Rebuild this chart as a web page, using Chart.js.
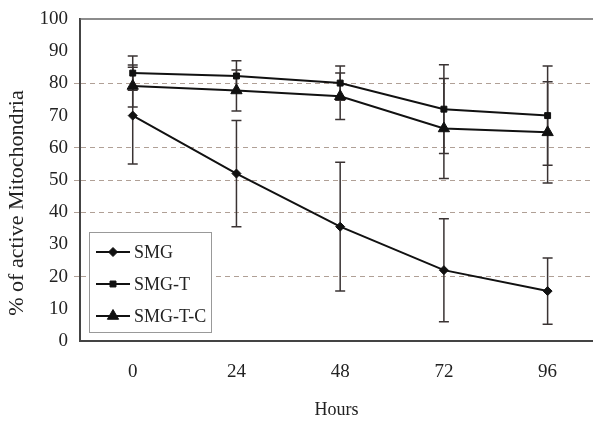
<!DOCTYPE html>
<html>
<head>
<meta charset="utf-8">
<script src="https://cdn.jsdelivr.net/npm/chart.js@4"></script>
<style>
html,body{margin:0;padding:0;background:#fff;overflow:hidden;}
canvas{display:block;}
</style>
</head>
<body>
<canvas id="c" width="593" height="421"></canvas>
<script>
const hours = [0, 24, 48, 72, 96];
const seriesNames = ['SMG', 'SMG-T', 'SMG-T-C'];
const smg = [70, 52, 35.5, 22, 15.5];
const smgErr = [15, 16.5, 20, 16, 10.3];
const smgT = [83.2, 82.3, 80.1, 72, 70];
const smgTErr = [5.3, 4.7, 5.3, 13.8, 15.4];
const smgTC = [79.2, 77.8, 76, 66, 64.8];
const smgTCErr = [6.5, 6.4, 7.2, 15.5, 15.7];
const yTicks = [0, 10, 20, 30, 40, 50, 60, 70, 80, 90, 100];
const gridValues = [20, 40, 50, 60, 80];
const xTitle = 'Hours';
const yTitle = '% of active Mitochondria';

const FONT = '"Liberation Serif", "Times New Roman", serif';
const TXT = '#222';

function pts(vals, errs) {
  return hours.map((h, i) => ({ x: h, y: vals[i], err: errs[i] }));
}

const styles = [
  { pointStyle: 'rectRot', radius: 4.5 },
  { pointStyle: 'rect', radius: 4.2 },
  { pointStyle: 'triangle', radius: 6.5 }
];

const datasets = [smg, smgT, smgTC].map((vals, k) => ({
  label: seriesNames[k],
  data: pts(vals, [smgErr, smgTErr, smgTCErr][k]),
  borderColor: '#111',
  backgroundColor: '#111',
  borderWidth: 2,
  pointStyle: styles[k].pointStyle,
  pointRadius: styles[k].radius,
  pointHoverRadius: styles[k].radius,
  pointBackgroundColor: '#111',
  pointBorderColor: '#111',
  pointBorderWidth: 1,
  showLine: true,
  tension: 0
}));

const errorBars = {
  id: 'errorBars',
  beforeDatasetsDraw(chart) {
    const ctx = chart.ctx;
    const xs = chart.scales.x, ys = chart.scales.y;
    ctx.save();
    ctx.strokeStyle = '#3a3333';
    ctx.lineWidth = 1.5;
    chart.data.datasets.forEach(ds => {
      ds.data.forEach(p => {
        const x = xs.getPixelForValue(p.x);
        const y1 = ys.getPixelForValue(p.y + p.err);
        const y2 = ys.getPixelForValue(p.y - p.err);
        ctx.beginPath();
        ctx.moveTo(x, y1); ctx.lineTo(x, y2);
        ctx.moveTo(x - 5, y1); ctx.lineTo(x + 5, y1);
        ctx.moveTo(x - 5, y2); ctx.lineTo(x + 5, y2);
        ctx.stroke();
      });
    });
    ctx.restore();
  }
};

const frame = {
  id: 'frame',
  beforeDatasetsDraw(chart) {
    const ctx = chart.ctx, a = chart.chartArea;
    ctx.save();
    ctx.strokeStyle = '#666';
    ctx.lineWidth = 1.5;
    ctx.beginPath();
    ctx.moveTo(a.left, a.top); ctx.lineTo(a.right, a.top);
    ctx.stroke();
    ctx.restore();
  },
  afterDraw(chart) {
    const ctx = chart.ctx;
    ctx.save();
    ctx.translate(17, 203);
    ctx.rotate(-Math.PI / 2);
    ctx.textAlign = 'center';
    ctx.textBaseline = 'middle';
    ctx.fillStyle = TXT;
    ctx.font = '22px ' + FONT;
    ctx.fillText(yTitle, 0, 0);
    ctx.restore();
    const L = 89, T = 232, W = 122, H = 100;
    ctx.save();
    ctx.fillStyle = '#fff';
    ctx.fillRect(L, T, W, H);
    ctx.strokeStyle = '#999';
    ctx.lineWidth = 1;
    ctx.strokeRect(L + 0.5, T + 0.5, W, H);
    const rows = [252, 284, 316];
    chart.data.datasets.forEach((ds, i) => {
      const y = rows[i];
      ctx.strokeStyle = '#111';
      ctx.lineWidth = 2;
      ctx.beginPath();
      ctx.moveTo(96, y); ctx.lineTo(130, y);
      ctx.stroke();
      ctx.fillStyle = '#111';
      ctx.strokeStyle = '#111';
      ctx.lineWidth = 1;
      Chart.helpers.drawPoint(ctx, { pointStyle: ds.pointStyle, radius: ds.pointRadius, borderWidth: 1, rotation: 0 }, 113, y);
      ctx.fillStyle = TXT;
      ctx.font = '18px ' + FONT;
      ctx.textAlign = 'left';
      ctx.textBaseline = 'middle';
      ctx.fillText(ds.label, 134, y + 1);
    });
    ctx.restore();
  }
};

new Chart(document.getElementById('c'), {
  type: 'scatter',
  data: { datasets },
  plugins: [errorBars, frame],
  options: {
    responsive: false,
    maintainAspectRatio: false,
    animation: false,
    layout: { autoPadding: false, padding: { top: 19, right: 0, left: 0, bottom: 0 } },
    plugins: { legend: { display: false }, tooltip: { enabled: false } },
    scales: {
      x: {
        type: 'linear',
        min: -12.2,
        max: 106.5,
        afterBuildTicks: s => { s.ticks = hours.map(v => ({ value: v })); },
        afterFit: s => { s.height = 80; s.paddingLeft = 0; s.paddingRight = 0; },
        grid: { display: false, drawTicks: false },
        border: { display: true, color: '#444', width: 2 },
        ticks: {
          padding: 20,
          color: TXT,
          font: { family: FONT, size: 19 },
          maxRotation: 0,
          autoSkip: false
        },
        title: {
          display: true,
          text: xTitle,
          color: TXT,
          font: { family: FONT, size: 18 },
          padding: { top: 13, bottom: 0 }
        }
      },
      y: {
        min: 0,
        max: 100,
        afterBuildTicks: s => { s.ticks = yTicks.map(v => ({ value: v })); },
        afterFit: s => { s.width = 80; },
        grid: {
          drawOnChartArea: true,
          drawTicks: true,
          tickLength: 6,
          color: c => gridValues.includes(c.tick && c.tick.value) ? '#b0a096' : 'rgba(0,0,0,0)',
          lineWidth: 1
        },
        border: { display: true, color: '#444', width: 2, dash: [5, 4] },
        ticks: {
          padding: 6,
          color: TXT,
          font: { family: FONT, size: 19 }
        }
      }
    }
  }
});
</script>
</body>
</html>
